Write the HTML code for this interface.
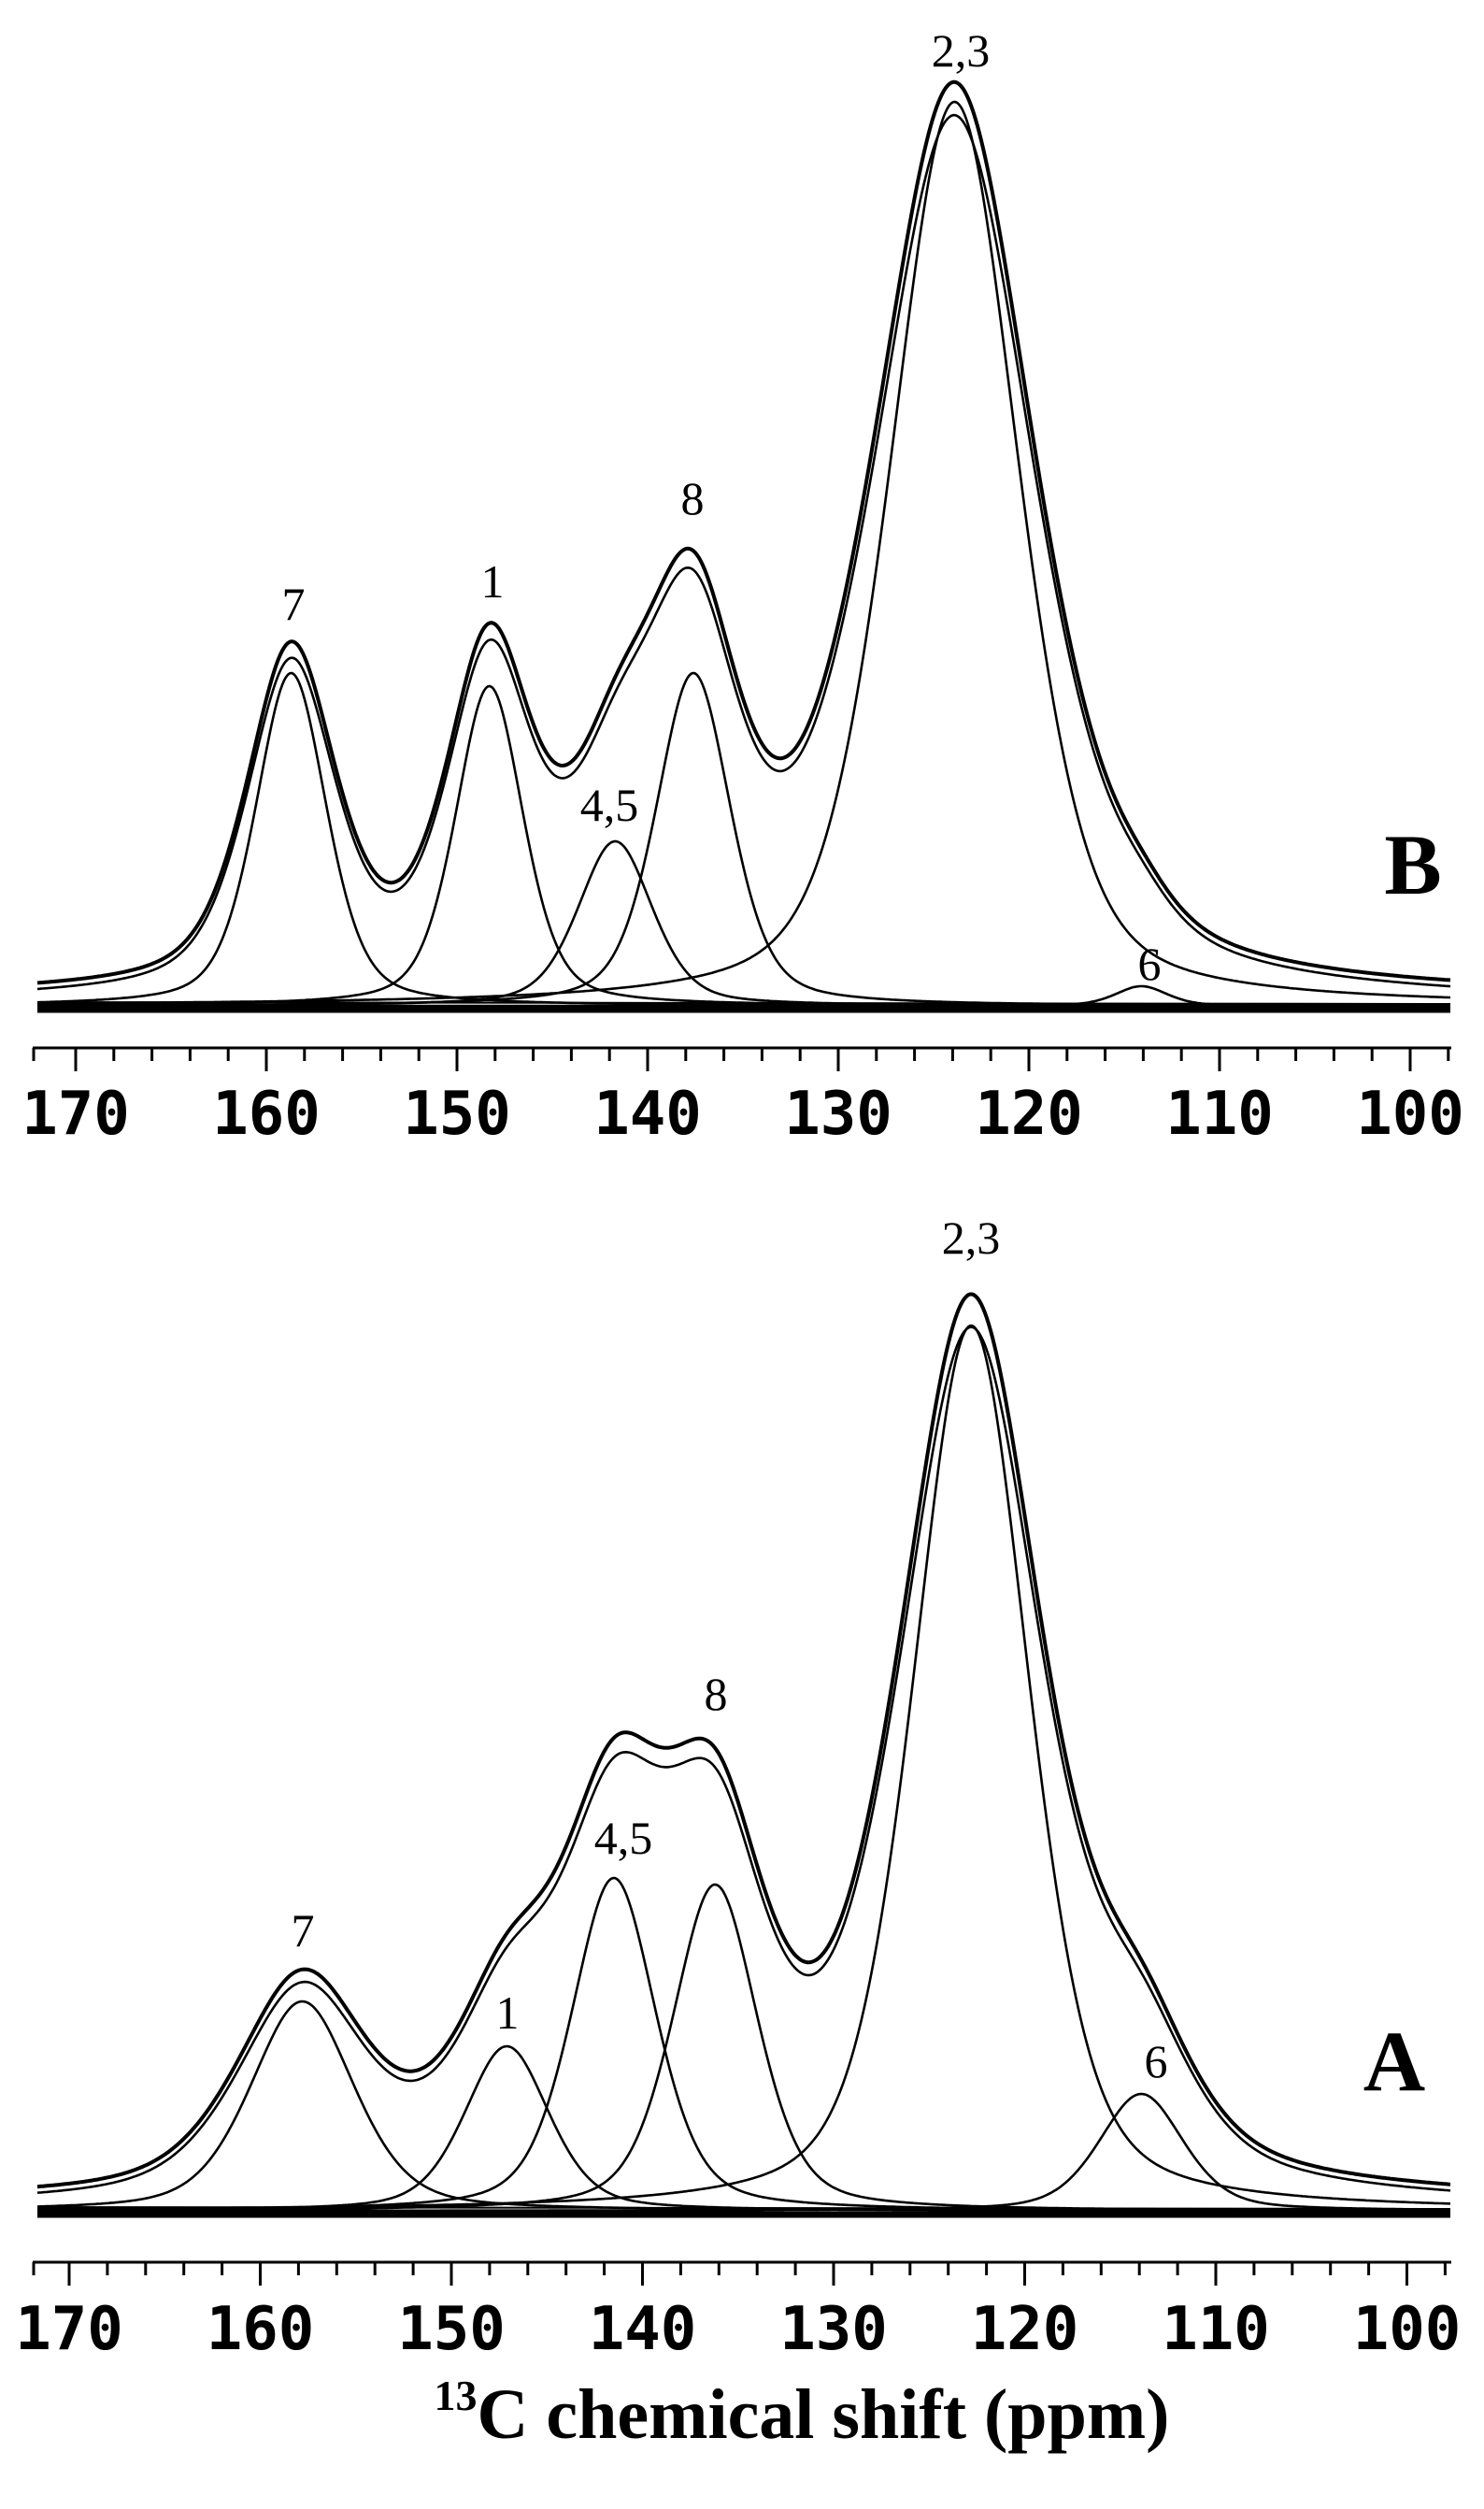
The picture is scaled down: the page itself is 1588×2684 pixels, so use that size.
<!DOCTYPE html>
<html><head><meta charset="utf-8">
<style>
html,body{margin:0;padding:0;background:#fff;}
svg{display:block;}
</style></head>
<body>
<svg id="s" width="1588" height="2684" viewBox="0 0 1588 2684" xmlns="http://www.w3.org/2000/svg">
<rect width="1588" height="2684" fill="#fff"/>
<g id="g"></g>
<g font-family="Liberation Serif, serif" font-size="50" text-anchor="middle" fill="#000">
<text x="1028" y="71">2,3</text>
<text x="314" y="663">7</text>
<text x="527" y="639">1</text>
<text x="741" y="550">8</text>
<text x="652" y="878">4,5</text>
<text x="1230" y="1048">6</text>
<text x="1039" y="1341">2,3</text>
<text x="766" y="1829">8</text>
<text x="667" y="1983">4,5</text>
<text x="324" y="2082">7</text>
<text x="543" y="2170">1</text>
<text x="1237" y="2222">6</text>
</g>
<g font-family="Liberation Serif, serif" font-weight="bold" font-size="92" text-anchor="middle" fill="#000">
<text x="1512" y="956">B</text>
<text x="1492" y="2236">A</text>
</g>
<text x="858" y="2608" font-family="Liberation Serif, serif" font-weight="bold" font-size="76" text-anchor="middle" fill="#000"><tspan font-size="46" dy="-30">13</tspan><tspan dy="30">C chemical shift (ppm)</tspan></text>
</svg>
<script>
(function(){
var NS="http://www.w3.org/2000/svg",g=document.getElementById('g');
function el(n,a){var e=document.createElementNS(NS,n);for(var k in a)e.setAttribute(k,a[k]);g.appendChild(e);return e;}
function pv(d,w,eta){var r=d/w;return eta/(1+4*r*r)+(1-eta)*Math.exp(-2.7726*r*r);}
var panels=[
 {x0:81,ppx:20.4,base:1080,axis:1121,lab:1213,
  comps:[[158.7,356,4.4],[148.3,342,4.2],[141.7,176,4.6],[137.6,356,4.6],[123.9,967,8.0],[114.1,21,3.2]],k:1.25},
 {x0:74,ppx:20.45,base:2369,axis:2420,lab:2513,
  comps:[[157.8,224,6.4],[147.1,176,5.2],[141.5,356,5.2],[136.2,349,5.2],[122.8,947,7.2],[113.9,125,5.2]],k:1.25}
];
panels.forEach(function(P){
 function X(p){return P.x0+(170-p)*P.ppx;}
 function P2(x){return 170-(x-P.x0)/P.ppx;}
 var xs=40,xe=1552;
 el('line',{x1:xs,y1:P.base,x2:xe,y2:P.base,stroke:'#000','stroke-width':7});
 el('line',{x1:xs,y1:P.base-8,x2:xe,y2:P.base-6,stroke:'#000','stroke-width':2});
 P.comps.forEach(function(c){
  var d='';
  for(var x=xs;x<=xe;x+=2){var p=P2(x);var y=P.base-4-c[1]*pv(p-c[0],c[2],0.4);d+=(x==xs?'M':'L')+x+' '+y.toFixed(1);}
  el('path',{d:d,fill:'none',stroke:'#000','stroke-width':2.6});
 });
 var d1='',d2='';
 for(var x=xs;x<=xe;x+=2){var p=P2(x),s=0;
  P.comps.forEach(function(c){s+=c[1]*pv(p-c[0],c[2]*P.k,0.5);});
  d1+=(x==xs?'M':'L')+x+' '+(P.base-12-s).toFixed(1);
  d2+=(x==xs?'M':'L')+x+' '+(P.base-6-s*0.97).toFixed(1);}
 el('path',{d:d1,fill:'none',stroke:'#000','stroke-width':4});
 el('path',{d:d2,fill:'none',stroke:'#000','stroke-width':2.6});
 el('line',{x1:35,y1:P.axis,x2:1553,y2:P.axis,stroke:'#000','stroke-width':3});
 el('line',{x1:36,y1:P.axis,x2:36,y2:P.axis+14,stroke:'#000','stroke-width':3});
 for(var v=170;v>=98;v-=2){var x=X(v);if(x>1553)break;var maj=(v%10==0);
  el('line',{x1:x,y1:P.axis,x2:x,y2:P.axis+(maj?25:14),stroke:'#000','stroke-width':3});
  if(maj){var t=el('text',{x:x,y:P.lab,'font-family':'DejaVu Sans Mono, monospace','font-weight':'bold','font-size':64,'text-anchor':'middle'});t.textContent=v;}
 }
});
})();
</script>
</body></html>
